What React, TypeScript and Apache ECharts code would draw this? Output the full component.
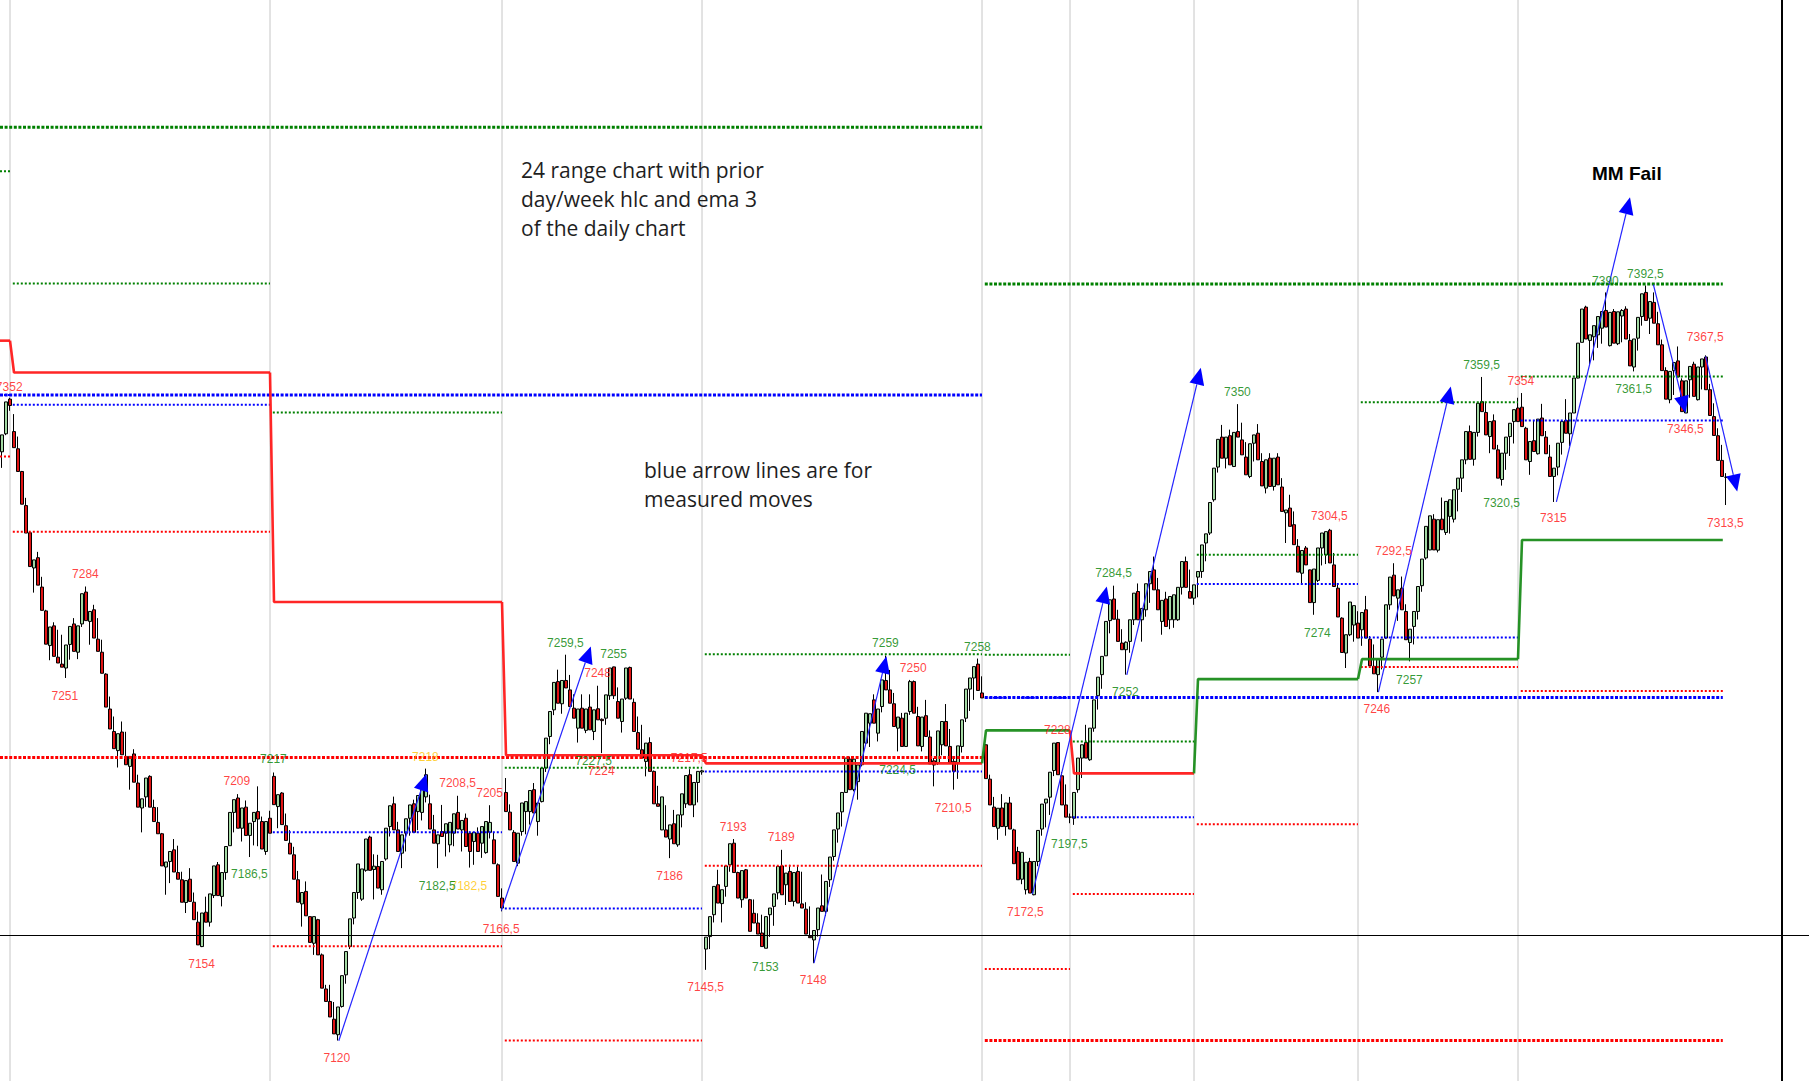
import React, { useEffect, useRef } from "react";
import * as echarts from "echarts";

// ---------------- data: 24-range bars, [open, close, low, high] ----------------
const session0 = [
  [7332.5, 7338.6, 7326.7, 7338.6], [7339, 7350.5, 7338.5, 7350.5], [7351.5, 7349.2, 7347.3, 7352],
];
const session1 = [
  [7339.8, 7334, 7334, 7346.1], [7333.6, 7325.4, 7325.4, 7338], [7325.4, 7313.6, 7313.6, 7325.6],
  [7313.1, 7303.2, 7303.2, 7315.9], [7303.3, 7291.1, 7291.1, 7303.5], [7290.6, 7293.5, 7281.7, 7293.5],
  [7294.3, 7284.4, 7284.4, 7296.4], [7283.7, 7275.3, 7275.3, 7287.4], [7275.1, 7263.1, 7263.1, 7275.5],
  [7262.6, 7269.3, 7257.3, 7269.3], [7269.7, 7258.7, 7258.7, 7271], [7258.4, 7256.3, 7256.3, 7268.3],
  [7255.9, 7254.8, 7254.8, 7266.5], [7254.5, 7262.8, 7250.9, 7262.8], [7263, 7269.5, 7257.5, 7269.5],
  [7270.4, 7260.5, 7260.5, 7272.5], [7260.2, 7269.7, 7257.7, 7269.7], [7270.4, 7281.3, 7269.3, 7281.3],
  [7281.9, 7271.6, 7271.6, 7283.9], [7271.3, 7274.9, 7262.9, 7274.9], [7275.5, 7265.3, 7265.3, 7277.3],
  [7264.9, 7260.5, 7260.5, 7272.5], [7260.2, 7252.6, 7252.6, 7264.7], [7252.3, 7240.4, 7240.4, 7252.6],
  [7239.7, 7232.5, 7232.5, 7244.2], [7231.6, 7225.4, 7225.4, 7237], [7224.7, 7230.8, 7218.6, 7230.8],
  [7231.4, 7223.2, 7223.2, 7235.2], [7222.6, 7219.6, 7219.6, 7231.5], [7219, 7222.6, 7210.6, 7222.6],
  [7223.5, 7213.3, 7213.3, 7225.2], [7213, 7204.3, 7204.3, 7216], [7204, 7207.3, 7195.2, 7207.3],
  [7208, 7214.8, 7204.4, 7214.8], [7215.4, 7204.3, 7204.3, 7215.8], [7204.2, 7199.1, 7199.1, 7207],
  [7198.8, 7194.7, 7194.7, 7204.3], [7194.7, 7183.1, 7183.1, 7195], [7182.7, 7184.5, 7172.7, 7184.5],
  [7184.7, 7188.3, 7176.9, 7188.3], [7188.9, 7180.9, 7180.9, 7192.8], [7180.7, 7178.3, 7178.3, 7190.4],
  [7178.1, 7170, 7170, 7181], [7169.9, 7177.8, 7166.1, 7177.8], [7178.3, 7170.3, 7170.3, 7182.3],
  [7170, 7163.7, 7163.7, 7173.5], [7162.8, 7154.6, 7154.6, 7166.6], [7154, 7166.1, 7153.8, 7166.1],
  [7166.4, 7162.8, 7162.8, 7172], [7162.8, 7173, 7161.2, 7173], [7172.4, 7183.1, 7171.5, 7183.1],
  [7183.5, 7172.4, 7172.4, 7184.5], [7172.1, 7180.7, 7168.5, 7180.7], [7180.7, 7190.1, 7178.1, 7190.1],
  [7190.4, 7202.4, 7190.4, 7202.4], [7202.4, 7207, 7195.2, 7207], [7207.6, 7196.7, 7196.7, 7209],
  [7196.7, 7204, 7191.9, 7204], [7204.3, 7194.1, 7194.1, 7206.7], [7194.1, 7198.5, 7186.3, 7198.5],
  [7199.1, 7202.4, 7190.5, 7202.4], [7202.7, 7200, 7190.2, 7211.8], [7199.1, 7189.2, 7189.2, 7200.9],
  [7188.3, 7199.1, 7187.1, 7199.1], [7200.3, 7194.9, 7194.9, 7203],
];
const session2 = [
  [7215.4, 7205.2, 7205.2, 7216.8], [7204.5, 7208.8, 7196.7, 7208.8], [7209.4, 7198, 7198, 7209.7],
  [7197.6, 7192.3, 7192.3, 7202], [7191.3, 7187.4, 7187.4, 7196], [7187.1, 7178.3, 7178.3, 7190],
  [7178.1, 7170, 7170, 7181.3], [7169.4, 7173.5, 7161.2, 7173.5], [7173.9, 7165.1, 7165.1, 7177.5],
  [7164.8, 7155.5, 7155.5, 7165], [7155.2, 7164.8, 7151, 7164.8], [7163.7, 7151, 7151, 7164],
  [7151, 7139, 7139, 7151.5], [7138.7, 7134.2, 7134.2, 7140.2], [7134.2, 7128.6, 7128.6, 7140.2],
  [7127.8, 7122.5, 7122.5, 7134], [7122.2, 7132.2, 7120.1, 7132.2], [7132.4, 7143.5, 7132, 7143.5],
  [7143.8, 7152.2, 7140.6, 7152.2], [7154, 7164, 7153.1, 7164], [7164.3, 7173.5, 7162, 7173.5],
  [7173.5, 7183.8, 7171.2, 7183.8], [7171.1, 7182, 7170.5, 7182], [7181.5, 7192.8, 7181, 7192.8],
  [7193.5, 7181.5, 7181.5, 7194], [7181.8, 7183, 7171, 7187.3], [7182.9, 7175.1, 7175.1, 7187.1],
  [7174.5, 7184.7, 7172.7, 7184.7], [7185.6, 7196.7, 7185, 7196.7], [7197.3, 7204.8, 7193.7, 7204.8],
  [7205.5, 7196.1, 7196.1, 7208.1], [7196.1, 7188.3, 7188.3, 7199], [7187.7, 7194.3, 7182.3, 7194.3],
  [7194.9, 7200.1, 7188.3, 7200.1], [7200.3, 7205.1, 7194, 7205.1], [7205.5, 7195.2, 7195.2, 7207],
  [7202.7, 7208.5, 7196, 7208.5], [7202.4, 7210.6, 7199.5, 7210.6], [7208, 7216, 7206, 7218.2],
  [7205.5, 7196.4, 7196.4, 7208.8], [7196.1, 7191.3, 7191.3, 7201.5], [7191.1, 7194.3, 7182.3, 7194.3],
  [7195.5, 7193.7, 7193.7, 7205.1], [7194.9, 7198.3, 7186.5, 7198.3], [7190.7, 7198.8, 7188, 7198.8],
  [7194.9, 7201.9, 7190.2, 7201.9], [7202.4, 7196.4, 7196.4, 7208.4], [7196.1, 7199.5, 7188.3, 7199.5],
  [7200.3, 7190.1, 7190.1, 7202], [7194.9, 7188.3, 7182.5, 7195.5], [7191.9, 7195.2, 7183.5, 7195.2],
  [7194.9, 7188.3, 7188.3, 7197], [7191.3, 7197.3, 7186, 7197.3], [7187.9, 7199.1, 7187.5, 7199.1],
  [7195.2, 7198.8, 7193, 7205], [7192.5, 7183.9, 7183.9, 7195], [7183.5, 7172.1, 7172.1, 7184],
  [7171.5, 7167.9, 7166.7, 7175],
];
const session3 = [
  [7209.6, 7202.7, 7202.7, 7214.8], [7202.5, 7196.1, 7196.1, 7205.3], [7195.2, 7184.7, 7184.7, 7196],
  [7184.1, 7194.9, 7183, 7194.9], [7195.5, 7205.8, 7194, 7205.8], [7202.7, 7206.3, 7194.5, 7206.3],
  [7202.7, 7210.3, 7198, 7210.3], [7210.6, 7202.2, 7202.2, 7213], [7199.1, 7205.8, 7194, 7205.8],
  [7206.3, 7218.4, 7206, 7218.4], [7218.4, 7229.2, 7217, 7229.2], [7229.8, 7238.8, 7227, 7238.8],
  [7239.4, 7249.3, 7237.5, 7249.3], [7249.6, 7241.8, 7241.8, 7253.9], [7241.6, 7250, 7238, 7250],
  [7250, 7247.3, 7247.3, 7259.3], [7246.6, 7240.6, 7240.6, 7252], [7240, 7236.4, 7236.4, 7245],
  [7232.8, 7239.7, 7227.6, 7239.7], [7240, 7232.8, 7232.8, 7245], [7232, 7239.7, 7231, 7239.7],
  [7240.4, 7232.2, 7232.2, 7245], [7231.6, 7239.4, 7228.5, 7239.4], [7239.8, 7235.8, 7235.8, 7248.1],
  [7236, 7235.5, 7223.8, 7236.3], [7236.4, 7244.8, 7234, 7244.8], [7244.5, 7254.5, 7243, 7254.5],
  [7254.9, 7244.5, 7243.3, 7255], [7242.4, 7236.4, 7236.4, 7247.5], [7235.2, 7243.3, 7231.2, 7243.3],
  [7243.6, 7254.5, 7243, 7254.5], [7254.7, 7243.3, 7243.3, 7255], [7242.1, 7231.6, 7231.6, 7243.5],
  [7231.2, 7225.2, 7225.2, 7237], [7225, 7222, 7222, 7234], [7220.8, 7227.4, 7215.4, 7227.4],
  [7227.6, 7217.2, 7217.2, 7229.5], [7217.2, 7205.5, 7205.5, 7217.5], [7205.5, 7204.6, 7204.6, 7212],
  [7196.1, 7208, 7196, 7208], [7196.1, 7193.5, 7193.5, 7205], [7192.8, 7197.9, 7185.9, 7197.9],
  [7198.3, 7191.1, 7191.1, 7203.3], [7190.7, 7201.5, 7190, 7201.5], [7201.5, 7209.1, 7197, 7209.1],
  [7205.5, 7215.7, 7204, 7215.7], [7216, 7205.1, 7205.1, 7218], [7205.1, 7213.2, 7200.7, 7213.2],
  [7213.2, 7217.2, 7206, 7217.2], [7217, 7217.4, 7216, 7217.8],
];
const session4 = [
  [7153.1, 7157.4, 7145.6, 7157.4], [7157.6, 7164.8, 7153.1, 7164.8], [7165.5, 7175.7, 7162.7, 7175.7],
  [7176.3, 7169.7, 7169.7, 7181.7], [7169.5, 7174.5, 7162.7, 7174.5], [7175.7, 7183.1, 7172, 7183.1],
  [7183.5, 7191.1, 7181, 7191.1], [7191.3, 7180.7, 7180.7, 7192.8], [7180.7, 7171.5, 7171.5, 7181],
  [7170.9, 7181.4, 7168, 7181.4], [7181.7, 7171.5, 7171.5, 7182], [7170.9, 7159.5, 7159.5, 7171.2],
  [7166, 7162.5, 7162.5, 7171], [7162.5, 7158.5, 7158.5, 7166], [7158.9, 7154, 7154, 7165.5],
  [7153.4, 7164.8, 7153.4, 7164.8], [7165.5, 7167.9, 7157.5, 7167.9], [7168.5, 7173, 7161.5, 7173],
  [7173.4, 7182.9, 7171, 7182.9], [7183.1, 7172.7, 7172.7, 7188.9], [7176.3, 7180.5, 7169, 7180.5],
  [7181.1, 7170.3, 7170.3, 7183.5], [7170.3, 7180.7, 7168.5, 7180.7], [7181.1, 7169.7, 7169.7, 7183],
  [7169.4, 7167.9, 7167.9, 7181], [7167.5, 7158.5, 7158.5, 7170], [7157.7, 7157.2, 7157.2, 7168.5],
  [7156.4, 7159.8, 7148, 7159.8], [7160.1, 7167.9, 7157.6, 7167.9], [7168.7, 7166.7, 7166.7, 7180],
  [7166.7, 7177.5, 7165, 7177.5], [7178.1, 7186.3, 7175.5, 7186.3], [7186.5, 7196.1, 7185, 7196.1],
  [7196.4, 7202.2, 7191.5, 7202.2], [7202.6, 7209.6, 7197.3, 7209.6], [7209.6, 7222, 7209.6, 7222],
  [7221.6, 7210.6, 7210.6, 7222.5], [7210.6, 7221.6, 7210, 7222.3], [7213.5, 7219.5, 7207, 7219.5],
  [7219.6, 7231.6, 7219, 7231.6], [7227.4, 7238.2, 7226.5, 7238.2], [7234.6, 7238, 7226, 7238],
  [7243, 7234.6, 7234.6, 7245], [7231, 7239.7, 7228, 7239.7], [7240.6, 7250.2, 7238.5, 7250.2],
  [7250, 7246.6, 7246.6, 7259], [7246.6, 7241.8, 7241.8, 7253.8], [7241.6, 7233.4, 7233.4, 7245.5],
  [7232.8, 7236.8, 7224.4, 7236.8], [7236.4, 7226.2, 7226.2, 7238.3], [7226.2, 7238.2, 7226, 7238.2],
  [7238.8, 7249.6, 7237.6, 7250.2], [7249.6, 7238.2, 7238.2, 7250], [7237, 7226.4, 7226.4, 7240.5],
  [7226.2, 7236.8, 7224.4, 7236.8], [7237.3, 7229.8, 7229.8, 7243], [7229.6, 7219.9, 7219.9, 7232],
  [7221, 7219.5, 7211.8, 7222], [7220.2, 7231.8, 7219.5, 7231.8], [7226.8, 7235.2, 7223, 7235.2],
  [7235.2, 7226.4, 7226.4, 7241.5], [7226.2, 7220.2, 7220.2, 7232.5], [7220.8, 7217.2, 7210.6, 7222.5],
  [7220.2, 7226.4, 7214.5, 7226.4], [7226.2, 7235.8, 7224, 7235.8], [7236.4, 7246.9, 7235, 7246.9],
  [7246.9, 7250.9, 7239, 7250.9], [7250.9, 7255, 7243, 7255], [7255.9, 7246.4, 7246.4, 7257.9],
  [7245.5, 7243.7, 7243.7, 7251.5],
];
const session5 = [
  [7226.8, 7214.6, 7214.6, 7227], [7214.4, 7205.1, 7205.1, 7216], [7204.3, 7197.3, 7197.3, 7208],
  [7196.7, 7203.9, 7192.5, 7203.9], [7204, 7197.3, 7197.3, 7209], [7197.3, 7205.8, 7194, 7205.8],
  [7205.8, 7196.4, 7196.4, 7208], [7196.1, 7183.9, 7183.9, 7196.5], [7188.3, 7178.1, 7178.1, 7190],
  [7178.3, 7188, 7176.5, 7188], [7174.5, 7184.4, 7172.8, 7184.4], [7184.7, 7173.3, 7173.3, 7186],
  [7172.7, 7184.7, 7172.5, 7184.7], [7184.7, 7195.9, 7183, 7195.9], [7196.4, 7205.4, 7194, 7205.4],
  [7205.8, 7207.2, 7197, 7207.2], [7207.9, 7216.9, 7201.5, 7216.9], [7217.5, 7227.4, 7215.5, 7227.4],
  [7227.6, 7216, 7216, 7227.8], [7215.6, 7205.1, 7205.1, 7217], [7205.1, 7200.7, 7200.7, 7212.5],
  [7200.7, 7200.7, 7198.5, 7202],
];
const session6 = [
  [7200.3, 7209.6, 7197.9, 7209.6], [7210.6, 7222, 7209.5, 7222], [7222, 7226.8, 7214.8, 7226.8],
  [7227.6, 7222, 7222, 7234], [7221.4, 7232.8, 7221, 7232.8], [7232.8, 7243, 7231.5, 7243],
  [7244.5, 7251.2, 7239.5, 7251.2], [7252.1, 7258.7, 7247, 7258.7], [7258.9, 7271.3, 7258.9, 7271.3],
  [7271.6, 7279.1, 7267, 7279.1], [7279.4, 7272.1, 7272.1, 7284.2], [7272.1, 7264.1, 7264.1, 7275.5],
  [7263.5, 7261.1, 7261.1, 7268.5], [7261.1, 7263.8, 7252.1, 7264.1], [7264.1, 7271.9, 7260, 7271.9],
  [7271.9, 7281.5, 7270, 7281.5], [7282.1, 7271.9, 7271.9, 7285], [7271.9, 7276, 7264, 7276],
  [7275.5, 7284.9, 7273, 7284.9], [7284.9, 7289.3, 7278, 7289.3], [7289.9, 7282.7, 7282.7, 7294.7],
  [7282.7, 7275.5, 7275.5, 7287], [7271.3, 7278.9, 7266.5, 7278.9], [7279.4, 7269.5, 7269.5, 7282],
  [7271.9, 7280.3, 7268.5, 7280.3], [7271.9, 7280.9, 7269, 7280.9], [7271.9, 7283.6, 7271.5, 7283.6],
  [7283.6, 7292.9, 7281, 7292.9], [7292.9, 7283.6, 7283.6, 7294.7], [7282.1, 7279.7, 7279.7, 7290],
  [7279.7, 7284.5, 7277.3, 7284.5],
];
const session7 = [
  [7287.3, 7289.3, 7280, 7289.3], [7289.3, 7298.9, 7287, 7298.9], [7299.6, 7302.9, 7293, 7302.9],
  [7303.2, 7314.2, 7302.5, 7314.2], [7315.2, 7326.6, 7314.5, 7326.6], [7327, 7337, 7325, 7337],
  [7337.8, 7330.2, 7330.2, 7342.2], [7330.2, 7337.8, 7326.5, 7337.8], [7338.3, 7327.8, 7327.8, 7340.5],
  [7327.2, 7339.5, 7327, 7339.5], [7339.8, 7337.8, 7337.8, 7349.7], [7336.8, 7331.4, 7331.4, 7343],
  [7330.6, 7324.2, 7324.2, 7336], [7323.6, 7335.4, 7323, 7335.4], [7335.6, 7338.6, 7329, 7338.6],
  [7339.2, 7329.6, 7329.6, 7342.5], [7329, 7320.2, 7320.2, 7332], [7319.4, 7329.6, 7317.5, 7329.6],
  [7330.2, 7320, 7320, 7332], [7320, 7330.2, 7318.5, 7330.2], [7330.6, 7320.6, 7320.6, 7332],
  [7319.8, 7311, 7311, 7323], [7310.5, 7311.5, 7299.6, 7311.5], [7312.2, 7305.6, 7305.6, 7317],
  [7306.2, 7299, 7299, 7311], [7298.4, 7289.1, 7289.1, 7301], [7288.7, 7296.9, 7285, 7296.9],
  [7297.8, 7291.7, 7291.7, 7298.5], [7289.9, 7278.1, 7278.1, 7290], [7278.1, 7290.2, 7273.7, 7290.2],
  [7286.1, 7297.8, 7285.5, 7297.8], [7297.8, 7303.2, 7291.5, 7303.2], [7295.3, 7303.7, 7292, 7303.7],
  [7304.2, 7292.4, 7292.4, 7304.7], [7291.7, 7283.9, 7283.9, 7296], [7283.3, 7272.9, 7272.9, 7285],
  [7272.5, 7260.1, 7260.1, 7272.8], [7259.9, 7266.5, 7254.5, 7266.5], [7266.5, 7278.3, 7266, 7278.3],
  [7270, 7277, 7264, 7277], [7270.7, 7265.3, 7265.3, 7275],
];
const session8 = [
  [7268.3, 7274.5, 7262.5, 7274.5], [7275.5, 7265.3, 7265.3, 7280.5], [7264.9, 7255.3, 7255.3, 7266],
  [7255.1, 7252.4, 7252.4, 7263], [7252.1, 7257.7, 7245.8, 7257.7], [7258.4, 7264.9, 7254, 7264.9],
  [7265.3, 7277.3, 7265, 7277.3], [7277.3, 7287.3, 7275.5, 7287.3], [7288, 7280.5, 7280.5, 7292.3],
  [7279.7, 7282.7, 7271.5, 7282.7], [7283.3, 7275.5, 7275.5, 7287.5], [7274.9, 7264.7, 7264.7, 7277.5],
  [7263.7, 7268.5, 7256.9, 7268.5], [7269.5, 7274.9, 7263, 7274.9], [7274.9, 7283.9, 7272, 7283.9],
  [7284.2, 7293.8, 7282, 7293.8], [7294.2, 7305.6, 7293.6, 7305.6], [7297.1, 7309.4, 7297, 7309.4],
  [7308.2, 7297.1, 7297.1, 7310], [7297, 7308, 7296.2, 7308], [7308.2, 7304.4, 7304.4, 7316],
  [7303.4, 7314.6, 7302.5, 7314.6], [7309.2, 7315.2, 7303, 7315.2], [7308.2, 7318.8, 7307, 7318.8],
  [7319, 7323, 7311, 7323], [7323, 7329.6, 7318, 7329.6], [7329.6, 7339.8, 7328, 7339.8],
  [7339.8, 7329.8, 7329.8, 7342], [7329.8, 7339.5, 7327.5, 7339.5], [7339.5, 7350, 7338, 7350],
  [7350.6, 7347, 7347, 7359.5], [7346.7, 7338.6, 7338.6, 7350.5], [7338, 7343.4, 7332, 7343.4],
  [7343.7, 7333.5, 7333.5, 7346], [7333.2, 7323, 7323, 7335], [7322.5, 7332, 7320.3, 7332],
  [7332, 7337.8, 7326, 7337.8], [7338, 7342.8, 7331, 7342.8], [7343.4, 7347.7, 7335.5, 7347.7],
  [7348.3, 7343.4, 7343.4, 7352],
];
const session9 = [
  [7348.6, 7341.6, 7341.6, 7353.7], [7341, 7329.6, 7329.6, 7341.5], [7329, 7336.2, 7324.2, 7336.2],
  [7336.5, 7332.6, 7332.6, 7344], [7331.8, 7344.3, 7331.5, 7344.3], [7344.7, 7338.3, 7338.3, 7349.8],
  [7337.8, 7331.8, 7331.8, 7340], [7330.6, 7323.6, 7323.6, 7335], [7323.6, 7326.6, 7314.4, 7326.6],
  [7327, 7335.6, 7324, 7335.6], [7335.9, 7343.4, 7331.5, 7343.4], [7343.8, 7339.2, 7339.2, 7351.5],
  [7339, 7346.5, 7334.5, 7346.5], [7346.5, 7359.1, 7346.5, 7359.1], [7359.1, 7371.7, 7359, 7371.7],
  [7372, 7384, 7372, 7384], [7384.7, 7373.2, 7373.2, 7385.2], [7372.7, 7374.7, 7364, 7374.7],
  [7374, 7378, 7365.5, 7378], [7374.7, 7381.3, 7370, 7381.3], [7377.1, 7383.1, 7371.5, 7383.1],
  [7383.5, 7377.5, 7377.5, 7390], [7370.8, 7382.8, 7370.5, 7382.8], [7383.1, 7371.7, 7371.7, 7384],
  [7371.5, 7383, 7371, 7383], [7381.5, 7383.5, 7372, 7384], [7384, 7373.2, 7373.2, 7385],
  [7372.7, 7363.5, 7363.5, 7375], [7363.1, 7373.2, 7361.5, 7373.2], [7373.5, 7381, 7369, 7381],
  [7381.3, 7389.5, 7378, 7389.5], [7390, 7379.9, 7379.9, 7392.5], [7380.7, 7386.7, 7375, 7386.7],
  [7386.4, 7378.9, 7378.9, 7390], [7378.7, 7371.1, 7371.1, 7383], [7371.1, 7361.8, 7361.8, 7373],
  [7361.8, 7351.5, 7351.5, 7363], [7351.3, 7361.5, 7350, 7361.5], [7361.8, 7364.7, 7353, 7364.7],
  [7365.3, 7359.5, 7359.5, 7370.5], [7358.1, 7347, 7347, 7359], [7346.5, 7358.1, 7346.5, 7358.1],
  [7358.5, 7363.3, 7352, 7363.3], [7364.1, 7352.5, 7352.5, 7365], [7351.3, 7363.1, 7351, 7363.1],
  [7363.1, 7366, 7355, 7366], [7366.7, 7354.9, 7354.9, 7367.3], [7354.9, 7345.6, 7345.6, 7357],
  [7345.2, 7338.4, 7338.4, 7350], [7338.3, 7329.4, 7329.4, 7341], [7329.4, 7323.6, 7323.6, 7335],
  [7323.3, 7323.3, 7313.3, 7324.8],
];

// session separators (bar index of last bar of each session) and line end
const sessionBreaks = [2, 67, 125, 175, 245, 267, 298, 339, 379];
const lineEndIndex = 430.2;
const slotCount = 445;

// prior-day high / close / low per session
const dayHigh = [7433.7, 7393.2, 7346.7, 7218.5, 7259.5, 7259.3, 7228, 7295.4, 7350.4, 7359.7];
const dayClose = [7353, 7349.5, 7195.2, 7167.7, 7217.2, 7243.8, 7200.7, 7284.8, 7265.5, 7343.8];
const dayLow = [7330.8, 7303.7, 7154.1, 7120.1, 7183.2, 7145.9, 7173, 7198.1, 7254.9, 7246.2];

// prior-week high / close / low
const weekBreak = 245;
const weekHigh = [7449.6, 7393];
const weekClose = [7353, 7243.9];
const weekLow = [7222.2, 7120.1];

// EMA(3) of the daily chart, one value per session
const emaDaily = [7372.6, 7361.1, 7278.3, 7223.0, 7220.1, 7232.0, 7216.5, 7250.5, 7257.7, 7300.7];

// measured-move arrows: [fromIndex, fromPrice, toIndex, toPrice]
const measuredMoves = [
  [84.2, 7120, 106.1, 7216.3],
  [124.85, 7167, 147.2, 7262.3],
  [203, 7148, 221.1, 7258.7],
  [257.6, 7172.9, 276.2, 7283.9],
  [281.2, 7252, 299.7, 7362.8],
  [344.1, 7245.8, 362.2, 7356.1],
  [388.6, 7314.4, 407, 7424.3],
  [412.85, 7392.8, 420.9, 7346.5],
  [425.9, 7366.9, 433.8, 7318.2],
];

// swing labels: [text, barIndex, price]
const redSwings = [
  ["7352", 1.8, 7356], ["7284", 20.85, 7288.5], ["7251", 15.7, 7244.5], ["7209", 58.7, 7213.8],
  ["7154", 49.9, 7147.8], ["7120", 83.7, 7113.9], ["7208,5", 113.9, 7213.1], ["7205", 121.9, 7209.5],
  ["7166,5", 124.8, 7160.4], ["7248", 148.9, 7252.8], ["7224", 149.8, 7217.4], ["7217,5", 171.8, 7222.1],
  ["7186", 166.9, 7179.5], ["7193", 182.8, 7197.2], ["7189", 194.8, 7193.6], ["7145,5", 175.9, 7139.5],
  ["7148", 202.8, 7142], ["7250", 227.8, 7254.6], ["7210,5", 237.8, 7204.1], ["7172,5", 255.85, 7166.5],
  ["7228", 263.85, 7232.2], ["7304,5", 331.85, 7309.2], ["7292,5", 347.9, 7296.8], ["7246", 343.7, 7239.8],
  ["7354", 379.7, 7358.1], ["7315", 387.85, 7308.7], ["7367,5", 425.8, 7374], ["7346,5", 420.85, 7340.9],
  ["7313,5", 430.85, 7306.9],
];
const greenSwings = [
  ["7217", 67.85, 7221.7], ["7186,5", 61.85, 7180.2], ["7182,5", 108.8, 7175.9], ["7259,5", 140.85, 7263.6],
  ["7255", 152.9, 7259.6], ["7227,5", 147.9, 7221], ["7153", 190.85, 7146.7], ["7259", 220.85, 7263.6],
  ["7258", 243.85, 7262.2], ["7224,5", 223.9, 7217.8], ["7284,5", 277.9, 7288.8], ["7252", 280.85, 7245.9],
  ["7197,5", 266.85, 7191.1], ["7350", 308.85, 7354.2], ["7274", 328.85, 7267.2], ["7257", 351.85, 7250.2],
  ["7359,5", 369.9, 7363.8], ["7320,5", 374.9, 7314.1], ["7390", 400.85, 7394.2], ["7392,5", 410.85, 7396.7],
  ["7361,5", 407.9, 7355.2],
];
const yellowSwings = [["7218", 105.85, 7222.5], ["7182,5", 116.7, 7175.9]];

const noteBlock1 = ["24 range chart with prior", "day/week hlc and ema 3", "of the daily chart"];
const noteBlock2 = ["blue arrow lines are for", "measured moves"];
const failNote = "MM Fail";

// ---------------- styling ----------------
const UP = "#a3d9a3";
const DOWN = "#e01414";
const GREEN = "#008000";
const BLUE = "#0000ff";
const RED = "#ff0000";
const EMA_UP = "#1a8c1a";
const EMA_DOWN = "#ff1a1a";
const Y_MIN = 7105.5;
const Y_MAX = 7495.5;

function hLine(x1: number, x2: number, y: number, color: string, width: number, dash: number[], z: number) {
  return {
    type: "line",
    xAxisIndex: 1,
    yAxisIndex: 0,
    data: [[x1, y], [x2, y]],
    showSymbol: false,
    symbol: "none",
    silent: true,
    z,
    lineStyle: { color, width, type: dash },
  };
}

function buildOption() {
  const candles = [
    ...session0, ...session1, ...session2, ...session3, ...session4,
    ...session5, ...session6, ...session7, ...session8, ...session9,
  ];
  const cats = Array.from({ length: slotCount }, (_, i) => String(i));
  const series: any[] = [];

  // session separators
  sessionBreaks.forEach((s) => {
    series.push({
      type: "line", xAxisIndex: 1, yAxisIndex: 0, data: [[s, Y_MIN], [s, Y_MAX]],
      showSymbol: false, symbol: "none", silent: true, z: 1,
      lineStyle: { color: "#c6c6c6", width: 1 },
    });
  });

  series.push({
    type: "candlestick",
    xAxisIndex: 0,
    yAxisIndex: 0,
    data: candles,
    barWidth: 3,
    silent: true,
    z: 2,
    itemStyle: {
      color: UP, color0: DOWN, borderColor: "#000", borderColor0: "#000",
      borderColorDoji: "#000", borderWidth: 1,
    },
  });

  // prior day lines
  const bounds = [-0.5, ...sessionBreaks, lineEndIndex];
  for (let k = 0; k < dayHigh.length; k++) {
    const x1 = k === 0 ? -0.5 : bounds[k] + 0.7;
    const x2 = bounds[k + 1];
    series.push(hLine(x1, x2, dayHigh[k], GREEN, 2, [2, 2], 3));
    series.push(hLine(x1, x2, dayClose[k], BLUE, 2, [2, 2], 3));
    series.push(hLine(x1, x2, dayLow[k], RED, 2, [2, 2], 3));
  }
  // prior week lines
  const wb = [[-0.5, weekBreak], [weekBreak + 0.7, lineEndIndex]];
  for (let k = 0; k < 2; k++) {
    series.push(hLine(wb[k][0], wb[k][1], weekHigh[k], GREEN, 3, [3, 1.6], 3));
    series.push(hLine(wb[k][0], wb[k][1], weekClose[k], BLUE, 3, [3, 1.6], 3));
    series.push(hLine(wb[k][0], wb[k][1], weekLow[k], RED, 3, [3, 1.6], 3));
  }

  // EMA step line
  for (let k = 0; k < emaDaily.length; k++) {
    const pts: number[][] = [];
    if (k === 0) pts.push([bounds[0], emaDaily[0]]);
    else {
      pts.push([bounds[k], emaDaily[k - 1]]);
      pts.push([bounds[k] + 1, emaDaily[k]]);
    }
    pts.push([bounds[k + 1], emaDaily[k]]);
    const color = k === 0 || emaDaily[k] < emaDaily[k - 1] ? EMA_DOWN : EMA_UP;
    series.push({
      type: "line", xAxisIndex: 1, yAxisIndex: 0, data: pts,
      showSymbol: false, symbol: "none", silent: true, z: 4,
      lineStyle: { color, width: 2.6, opacity: 0.95 },
    });
  }

  // measured move arrows
  series.push({
    type: "custom",
    xAxisIndex: 1,
    yAxisIndex: 0,
    data: measuredMoves,
    silent: true,
    z: 5,
    encode: { x: [0, 2], y: [1, 3] },
    renderItem: (params: any, api: any) => {
      const a = api.coord([api.value(0), api.value(1)]);
      const b = api.coord([api.value(2), api.value(3)]);
      const dx = b[0] - a[0];
      const dy = b[1] - a[1];
      const L = Math.sqrt(dx * dx + dy * dy) || 1;
      const ux = dx / L;
      const uy = dy / L;
      const head = 17;
      const half = 7.5;
      const bx = b[0] - ux * head;
      const by = b[1] - uy * head;
      return {
        type: "group",
        children: [
          { type: "line", shape: { x1: a[0], y1: a[1], x2: bx, y2: by }, style: { stroke: "#2424ff", lineWidth: 1.2 } },
          {
            type: "polygon",
            shape: { points: [[b[0], b[1]], [bx - uy * half, by + ux * half], [bx + uy * half, by - ux * half]] },
            style: { fill: "#0000ff" },
          },
        ],
      };
    },
  });

  const labelSeries = (items: any[], color: string) => ({
    type: "scatter",
    xAxisIndex: 1,
    yAxisIndex: 0,
    symbolSize: 0,
    silent: true,
    z: 6,
    data: items.map((d) => ({ name: d[0], value: [d[1], d[2]] })),
    label: {
      show: true,
      position: "inside",
      formatter: "{b}",
      color,
      fontSize: 12,
      fontFamily: "Liberation Sans",
    },
  });
  series.push(labelSeries(yellowSwings, "#ffc400"));
  series.push(labelSeries(redSwings, "#ff1010"));
  series.push(labelSeries(greenSwings, "#008000"));

  const noteStyle = { fill: "#1e1e1e", fontSize: 21, fontFamily: "Open Sans", verticalAlign: "middle", align: "left" };
  const graphic: any[] = [];
  noteBlock1.forEach((t, i) => {
    graphic.push({ type: "text", x: 521, y: 170 + i * 29, silent: true, z: 10, style: { ...noteStyle, text: t } });
  });
  noteBlock2.forEach((t, i) => {
    graphic.push({ type: "text", x: 644, y: 470 + i * 29, silent: true, z: 10, style: { ...noteStyle, text: t } });
  });
  graphic.push({
    type: "text", x: 1592, y: 173, silent: true, z: 10,
    style: { text: failNote, fill: "#000", fontSize: 19, fontWeight: "bold", fontFamily: "Liberation Sans", verticalAlign: "middle", align: "left" },
  });
  graphic.push({
    type: "line", silent: true, z: 10,
    shape: { x1: 0, y1: 935.5, x2: 1809, y2: 935.5 },
    style: { stroke: "#000", lineWidth: 1 },
  });
  graphic.push({
    type: "line", silent: true, z: 10,
    shape: { x1: 1782, y1: 0, x2: 1782, y2: 1081 },
    style: { stroke: "#000", lineWidth: 2 },
  });

  return {
    animation: false,
    backgroundColor: "#ffffff",
    textStyle: { fontFamily: "Liberation Sans" },
    tooltip: { show: false },
    grid: { left: 0, top: 0, width: slotCount * 4, bottom: 0, containLabel: false },
    xAxis: [
      { type: "category", data: cats, show: false, boundaryGap: true, gridIndex: 0 },
      { type: "value", min: -0.5, max: slotCount - 0.5, show: false, gridIndex: 0, splitLine: { show: false } },
    ],
    yAxis: [{ type: "value", min: Y_MIN, max: Y_MAX, show: false, scale: true, splitLine: { show: false } }],
    series,
    graphic,
  };
}

export default function App() {
  const ref = useRef<HTMLDivElement>(null);
  useEffect(() => {
    if (!ref.current) return;
    const chart = echarts.init(ref.current, null, { renderer: "svg" });
    chart.setOption(buildOption() as any);
    return () => chart.dispose();
  }, []);
  return (
    <div
      ref={ref}
      style={{ position: "absolute", left: 0, top: 0, width: 1809, height: 1081, background: "#ffffff" }}
    />
  );
}
